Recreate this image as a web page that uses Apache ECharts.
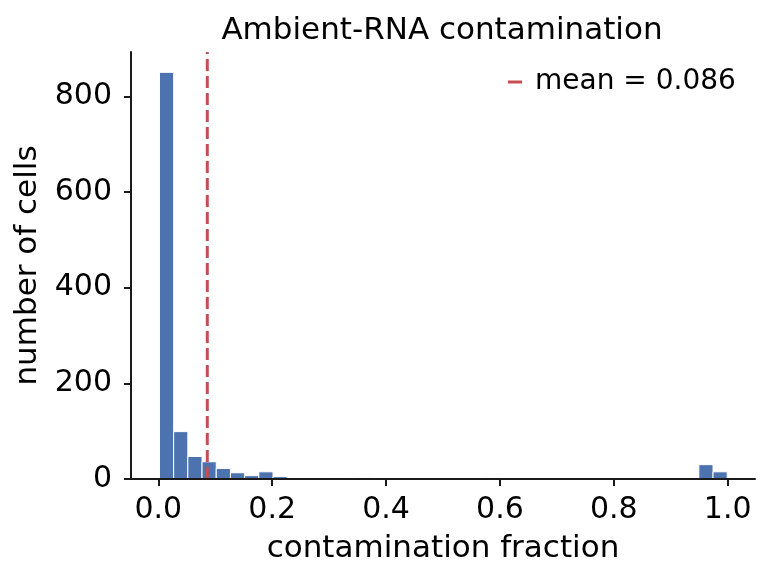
<!DOCTYPE html>
<html>
<head>
<meta charset="utf-8">
<script src="https://cdn.jsdelivr.net/npm/echarts@6/dist/echarts.min.js"></script>
<style>
html,body{margin:0;padding:0;background:#fff;}
#chart{width:770px;height:581px;}
</style>
</head>
<body>
<div id="chart"></div>
<script>
// histogram data (40 bins)
const binStart = 0.002;
const binWidth = 0.02493;
const counts = [850, 99, 47, 36, 22, 13, 7, 15, 5, 0,
                0, 0, 3, 0, 3, 0, 0, 1, 0, 0,
                0, 0, 0, 3, 1, 0, 0, 0, 0, 0,
                0, 0, 0, 0, 0, 0, 0, 2, 30, 15];
const meanValue = 0.086;
const xTicks = [0, 0.2, 0.4, 0.6, 0.8, 1.0];
const yTicks = [0, 200, 400, 600, 800];
const yMax = 892.5;

const bars = [];
counts.forEach(function (c, i) {
  if (c > 0) bars.push([binStart + i * binWidth, binStart + (i + 1) * binWidth, c]);
});

const FONT = 'DejaVu Sans';
const chart = echarts.init(document.getElementById('chart'));
chart.setOption({
  animation: false,
  backgroundColor: '#fff',
  textStyle: { fontFamily: FONT },
  title: {
    text: 'Ambient-RNA contamination',
    left: 437, top: 10, textAlign: 'center',
    textStyle: { fontFamily: FONT, fontSize: 31, fontWeight: 'normal', color: '#000' }
  },
  legend: {
    left: 503, top: 63,
    icon: 'rect', itemWidth: 14, itemHeight: 3, itemGap: 10,
    textStyle: { fontFamily: FONT, fontSize: 28, color: '#000', padding: [0, 0, 0, 8] },
    data: ['mean = ' + meanValue.toFixed(3)]
  },
  grid: { left: 131, right: 15, top: 52, bottom: 102, containLabel: false },
  xAxis: {
    type: 'value', min: -0.048, max: 1.048, z: 5,
    name: 'contamination fraction', nameLocation: 'middle', nameGap: 54,
    nameTextStyle: { fontFamily: FONT, fontSize: 31, color: '#000' },
    axisLine: { show: true, onZero: false, lineStyle: { color: '#1a1a1a', width: 2 } },
    axisTick: { show: true, customValues: xTicks, length: 7, lineStyle: { color: '#1a1a1a', width: 2 } },
    axisLabel: { customValues: xTicks, fontSize: 30, color: '#000', margin: 16, formatter: function (v) { return v.toFixed(1); } },
    splitLine: { show: false }
  },
  yAxis: {
    type: 'value', min: 0, max: yMax, z: 5,
    name: 'number of cells', nameLocation: 'middle', nameGap: 86, nameRotate: 90,
    nameTextStyle: { fontFamily: FONT, fontSize: 31, color: '#000' },
    axisLine: { show: true, onZero: false, lineStyle: { color: '#1a1a1a', width: 2 } },
    axisTick: { show: true, customValues: yTicks, length: 7, lineStyle: { color: '#1a1a1a', width: 2 } },
    axisLabel: { customValues: yTicks, fontSize: 30, color: '#000', margin: 19 },
    splitLine: { show: false }
  },
  series: [
    {
      type: 'custom', name: 'hist', z: 2,
      renderItem: function (params, api) {
        const p0 = api.coord([api.value(0), api.value(2)]);
        const p1 = api.coord([api.value(1), 0]);
        return {
          type: 'rect',
          shape: { x: p0[0], y: p0[1], width: p1[0] - p0[0], height: p1[1] - p0[1] },
          style: { fill: '#4c72b0', stroke: '#ffffff', lineWidth: 1 }
        };
      },
      encode: { x: [0, 1], y: 2 },
      data: bars
    },
    {
      type: 'line', name: 'mean = ' + meanValue.toFixed(3), z: 3,
      symbol: 'none',
      itemStyle: { color: '#c44e52' },
      lineStyle: { color: '#c44e52', width: 3, type: [12, 5] },
      data: [[meanValue, 0], [meanValue, yMax]]
    }
  ]
});
</script>
</body>
</html>
